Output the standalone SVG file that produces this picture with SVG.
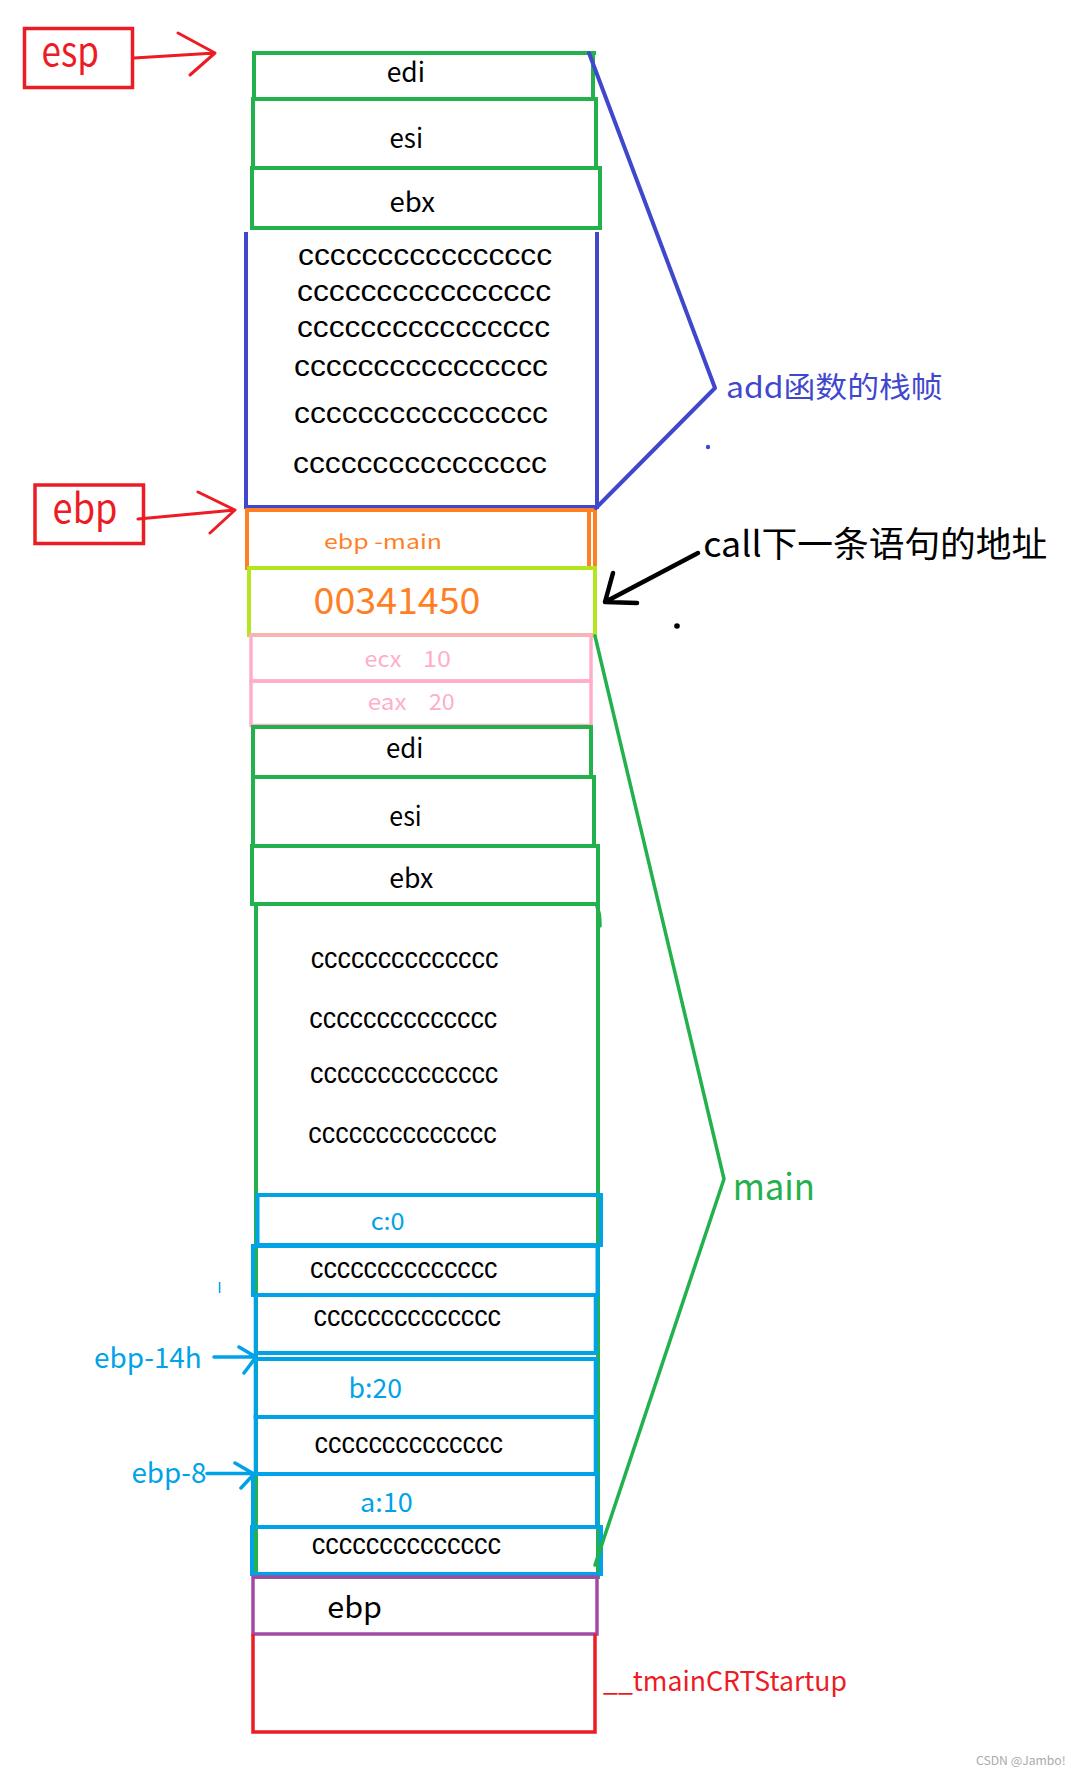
<svg xmlns="http://www.w3.org/2000/svg" width="1071" height="1775" viewBox="0 0 1071 1775">
<style>
text{font-family:"Noto Sans CJK SC","Noto Sans",sans-serif;}
.k{fill:#000;}
.cc{font-family:"Liberation Sans",Arial,sans-serif;fill:#000;}
.g{fill:none;stroke:#22b14c;stroke-width:4;}
.gt{fill:none;stroke:#22b14c;stroke-width:3.5;stroke-linecap:round;stroke-linejoin:round;}
.b{fill:none;stroke:#3f48cc;stroke-width:4;}
.bt{fill:none;stroke:#3f48cc;stroke-width:4;stroke-linecap:round;stroke-linejoin:round;}
.o{fill:none;stroke:#ff7f27;stroke-width:4;}
.y{fill:none;stroke:#b5e61d;stroke-width:4;}
.p{fill:none;stroke:#ffaec9;stroke-width:3.5;}
.c{fill:none;stroke:#00a2e8;stroke-width:4;}
.ct{fill:none;stroke:#00a2e8;stroke-width:3.5;stroke-linecap:round;stroke-linejoin:round;}
.pu{fill:none;stroke:#a349a4;stroke-width:3.5;}
.r{fill:none;stroke:#ed1c24;stroke-width:3.5;}
.rt{fill:none;stroke:#ed1c24;stroke-width:3;stroke-linecap:round;stroke-linejoin:round;}
.kt{fill:none;stroke:#000;stroke-width:4.5;stroke-linecap:round;stroke-linejoin:round;}
</style>
<rect width="1071" height="1775" fill="#fff"/>

<g id="esp-label">
<rect class="r" x="24.5" y="28.5" width="108" height="59"/>
<text x="41.5" y="66" font-size="40" fill="#ed1c24" textLength="57.5" lengthAdjust="spacingAndGlyphs">esp</text>
</g>
<g id="ebp-label">
<rect class="r" x="35" y="485" width="108.5" height="58.5"/>
<text x="52.6" y="523.3" font-size="40" fill="#ed1c24" textLength="64.8" lengthAdjust="spacingAndGlyphs">ebp</text>
</g>

<g id="add-edi"><rect class="g" x="254" y="53" width="339" height="46"/><line class="g" x1="593" y1="53" x2="596" y2="53"/>
<text class="k" x="386.7" y="82" font-size="27" textLength="38.3" lengthAdjust="spacingAndGlyphs">edi</text></g>
<g id="add-esi"><rect class="g" x="253" y="99" width="343" height="69"/>
<text class="k" x="389.5" y="148" font-size="27" textLength="33.5" lengthAdjust="spacingAndGlyphs">esi</text></g>
<g id="add-ebx"><rect class="g" x="252" y="168" width="348" height="60"/>
<text class="k" x="389.5" y="212" font-size="27" textLength="45.5" lengthAdjust="spacingAndGlyphs">ebx</text></g>

<g id="add-locals">
<path class="b" d="M246,232 V507 H597 V232"/>
<text class="cc" x="298" y="265" font-size="30" textLength="254" lengthAdjust="spacingAndGlyphs">cccccccccccccccc</text>
<text class="cc" x="297" y="300.7" font-size="30" textLength="254" lengthAdjust="spacingAndGlyphs">cccccccccccccccc</text>
<text class="cc" x="297" y="336.7" font-size="30" textLength="253" lengthAdjust="spacingAndGlyphs">cccccccccccccccc</text>
<text class="cc" x="294" y="375.7" font-size="30" textLength="254" lengthAdjust="spacingAndGlyphs">cccccccccccccccc</text>
<text class="cc" x="294" y="423.3" font-size="30" textLength="254" lengthAdjust="spacingAndGlyphs">cccccccccccccccc</text>
<text class="cc" x="293" y="473.3" font-size="30" textLength="254" lengthAdjust="spacingAndGlyphs">cccccccccccccccc</text>
</g>

<g id="ebp-main"><rect class="o" x="247" y="510" width="348" height="58"/><line class="o" x1="589" y1="510" x2="589" y2="568"/>
<text x="324" y="549.3" font-size="20" fill="#ff7f27" textLength="118" lengthAdjust="spacingAndGlyphs">ebp -main</text></g>
<g id="ret-addr"><rect class="y" x="249" y="568" width="346" height="67"/>
<text x="313.6" y="614" font-size="36" fill="#ff7f27" textLength="166.8" lengthAdjust="spacingAndGlyphs">00341450</text></g>
<g id="ecx"><rect class="p" x="251" y="635" width="340" height="46"/>
<text x="364.6" y="667.3" font-size="22" fill="#ffaec9" textLength="36.7" lengthAdjust="spacingAndGlyphs">ecx</text>
<text x="423" y="667.3" font-size="22" fill="#ffaec9" textLength="27.8" lengthAdjust="spacingAndGlyphs">10</text></g>
<g id="eax"><rect class="p" x="251" y="681" width="340" height="44.5"/>
<text x="367.7" y="710" font-size="22" fill="#ffaec9" textLength="38.8" lengthAdjust="spacingAndGlyphs">eax</text>
<text x="429" y="710" font-size="22" fill="#ffaec9" textLength="25.7" lengthAdjust="spacingAndGlyphs">20</text></g>

<g id="main-edi"><rect class="g" x="253" y="727" width="338" height="50"/>
<text class="k" x="386" y="757.7" font-size="27" textLength="37.3" lengthAdjust="spacingAndGlyphs">edi</text></g>
<g id="main-esi"><rect class="g" x="253" y="777" width="341" height="69"/>
<text class="k" x="389.3" y="826" font-size="27" textLength="32.4" lengthAdjust="spacingAndGlyphs">esi</text></g>
<g id="main-ebx"><rect class="g" x="252" y="846" width="346" height="58"/>
<text class="k" x="389.3" y="888.3" font-size="27" textLength="44" lengthAdjust="spacingAndGlyphs">ebx</text></g>

<g id="main-locals">
<path class="g" d="M256,904 V1577 H598 V904"/>
<path class="gt" d="M597,907 Q600,912 600,926"/>
<text class="cc" x="310.7" y="968.3" font-size="29" textLength="187.6" lengthAdjust="spacingAndGlyphs">cccccccccccccc</text>
<text class="cc" x="309.3" y="1028.3" font-size="29" textLength="188" lengthAdjust="spacingAndGlyphs">cccccccccccccc</text>
<text class="cc" x="310" y="1083.3" font-size="29" textLength="188.3" lengthAdjust="spacingAndGlyphs">cccccccccccccc</text>
<text class="cc" x="308.3" y="1143.3" font-size="29" textLength="188.4" lengthAdjust="spacingAndGlyphs">cccccccccccccc</text>
</g>

<g id="var-c"><rect class="c" x="257.5" y="1195" width="343.5" height="50"/>
<text x="370.7" y="1230" font-size="24" fill="#00a2e8" textLength="33.9" lengthAdjust="spacingAndGlyphs">c:0</text></g>
<g id="pad1"><rect class="c" x="253" y="1246" width="344.5" height="49"/>
<text class="cc" x="310" y="1277.7" font-size="29" textLength="187.5" lengthAdjust="spacingAndGlyphs">cccccccccccccc</text></g>
<g id="pad2"><rect class="c" x="255.7" y="1295" width="340" height="58"/>
<text class="cc" x="313.6" y="1325.7" font-size="29" textLength="187.4" lengthAdjust="spacingAndGlyphs">cccccccccccccc</text></g>
<g id="var-b"><rect class="c" x="255.7" y="1359" width="340" height="58"/>
<text x="348.6" y="1398.3" font-size="27" fill="#00a2e8" textLength="53.4" lengthAdjust="spacingAndGlyphs">b:20</text></g>
<g id="pad3"><rect class="c" x="255.7" y="1417" width="340" height="57"/>
<text class="cc" x="314.6" y="1453.3" font-size="29" textLength="188.3" lengthAdjust="spacingAndGlyphs">cccccccccccccc</text></g>
<g id="var-a"><rect class="c" x="253" y="1474" width="344" height="53"/>
<text x="360" y="1511.7" font-size="26" fill="#00a2e8" textLength="52.8" lengthAdjust="spacingAndGlyphs">a:10</text></g>
<g id="pad4"><rect class="c" x="252" y="1527" width="349" height="47"/>
<text class="cc" x="311.8" y="1554" font-size="29" textLength="189.2" lengthAdjust="spacingAndGlyphs">cccccccccccccc</text></g>

<g id="saved-ebp"><rect class="pu" x="253" y="1577" width="344" height="57"/>
<text class="k" x="327.3" y="1618.3" font-size="29" textLength="54.7" lengthAdjust="spacingAndGlyphs">ebp</text></g>
<g id="crt"><path class="r" d="M253,1634 V1732 H595 V1634"/>
<text x="603" y="1690.7" font-size="27" fill="#ed1c24" textLength="244" lengthAdjust="spacingAndGlyphs">__tmainCRTStartup</text></g>

<g id="label-add"><text x="726" y="398.3" font-size="29" fill="#3f48cc" textLength="216.7" lengthAdjust="spacingAndGlyphs">add函数的栈帧</text></g>
<g id="label-call"><text class="k" x="703.3" y="557.3" font-size="35" textLength="344" lengthAdjust="spacingAndGlyphs">call下一条语句的地址</text></g>
<g id="label-main"><text x="732.7" y="1200" font-size="36" fill="#22b14c" textLength="82.3" lengthAdjust="spacingAndGlyphs">main</text></g>
<g id="label-ebp14h"><text x="94" y="1368.3" font-size="28" fill="#00a2e8" textLength="107.8" lengthAdjust="spacingAndGlyphs">ebp-14h</text></g>
<g id="label-ebp8"><text x="131.4" y="1483" font-size="28" fill="#00a2e8" textLength="75" lengthAdjust="spacingAndGlyphs">ebp-8</text></g>

<g id="connectors">
<path class="rt" d="M134,58 L215,53 M178,33 L215,53 L190,75"/>
<path class="rt" d="M138,519 L235,510 M198,492 L235,510 L210,533"/>
<path class="bt" d="M589,53 L715,388 L596,508"/>
<circle cx="708" cy="447" r="2.2" fill="#3f48cc"/>
<path class="kt" d="M698,553 L605,602 M613,573 L605,602 L637,603"/>
<circle cx="677" cy="626" r="2.8" fill="#000"/>
<path class="gt" d="M595,636 L724,1179 L595,1565"/>
<path class="ct" d="M214,1357 L256,1357 M239,1347 L256,1357 L244,1373"/>
<path class="ct" d="M207,1473.5 L254,1473.5 M235,1463 L254,1474 L241,1488"/>
<line x1="219.6" y1="1282" x2="219.6" y2="1293" stroke="#00a2e8" stroke-width="1.5"/>
</g>

<text x="976" y="1765" font-size="11.5" fill="#aaa" textLength="89.7" lengthAdjust="spacingAndGlyphs" font-family="Liberation Sans, sans-serif">CSDN @Jambo!</text>
</svg>
